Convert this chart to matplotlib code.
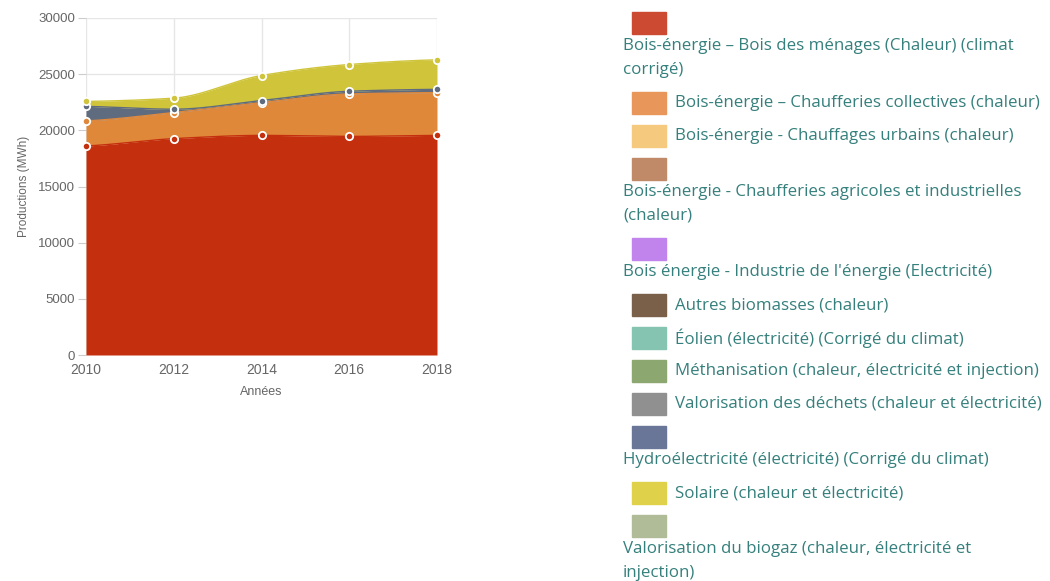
import numpy as np
import matplotlib
matplotlib.use("Agg")
import matplotlib.pyplot as plt
from matplotlib.patches import Rectangle

# ---- data ----
years = [2010, 2012, 2014, 2016, 2018]
bois_menages = [18610, 19260, 19550, 19460, 19550]
chaufferies_collectives = [2230, 2320, 2920, 3780, 3810]
hydro = [1290, 300, 180, 240, 290]
solaire = [440, 985, 2230, 2380, 2630]

series_names = ["Bois-énergie – Bois des ménages", "Chaufferies collectives", "Hydroélectricité", "Solaire"]
series_values = [bois_menages, chaufferies_collectives, hydro, solaire]
area_colors = ["#c42f0e", "#e0883a", "#5f6b7e", "#cfc43a"]

legend_labels = [
    "Bois-énergie – Bois des ménages (Chaleur) (climat\ncorrigé)",
    "Bois-énergie – Chaufferies collectives (chaleur)",
    "Bois-énergie - Chauffages urbains (chaleur)",
    "Bois-énergie - Chaufferies agricoles et industrielles\n(chaleur)",
    "Bois énergie - Industrie de l'énergie (Electricité)",
    "Autres biomasses (chaleur)",
    "Éolien (électricité) (Corrigé du climat)",
    "Méthanisation (chaleur, électricité et injection)",
    "Valorisation des déchets (chaleur et électricité)",
    "Hydroélectricité (électricité) (Corrigé du climat)",
    "Solaire (chaleur et électricité)",
    "Valorisation du biogaz (chaleur, électricité et\ninjection)",
]
legend_colors = ["#cc4a32", "#e8965a", "#f5c97e", "#c08a68", "#c084ec", "#7a6048",
                 "#84c4b0", "#8ca870", "#909090", "#6a7698", "#dfd24a", "#b0bc98"]
# whether text goes below the swatch (wrapped layout)
legend_block = [True, False, False, True, True, False, False, False, False, True, False, True]

yticks = [0, 5000, 10000, 15000, 20000, 25000, 30000]


def pchip(x, y, xs):
    x = np.asarray(x, float); y = np.asarray(y, float)
    h = np.diff(x); d = np.diff(y) / h
    n = len(x); m = np.zeros(n)
    for k in range(1, n - 1):
        if d[k - 1] * d[k] > 0:
            w1 = 2 * h[k] + h[k - 1]; w2 = h[k] + 2 * h[k - 1]
            m[k] = (w1 + w2) / (w1 / d[k - 1] + w2 / d[k])
    m[0] = d[0] * 0.5
    m[-1] = d[-1] * 0.5
    out = np.empty_like(xs, dtype=float)
    for i, xv in enumerate(xs):
        k = min(np.searchsorted(x, xv, side="right") - 1, n - 2)
        t = (xv - x[k]) / h[k]
        h00 = 2 * t**3 - 3 * t**2 + 1; h10 = t**3 - 2 * t**2 + t
        h01 = -2 * t**3 + 3 * t**2; h11 = t**3 - t**2
        out[i] = h00 * y[k] + h10 * h[k] * m[k] + h01 * y[k + 1] + h11 * h[k] * m[k + 1]
    return out


W, H = 1050, 581
plt.rcParams['font.family'] = ['Liberation Sans', 'DejaVu Sans']
fig = plt.figure(figsize=(W / 100, H / 100), dpi=100)
ax = fig.add_axes([86 / W, 1 - 355 / H, (437 - 86) / W, (355 - 18) / H])

xs = np.linspace(years[0], years[-1], 400)
cum = np.zeros(len(years))
lower = np.zeros_like(xs)
tops = []
for vals, col in zip(series_values, area_colors):
    cum = cum + np.array(vals, float)
    upper = pchip(years, cum, xs)
    ax.fill_between(xs, lower, upper, color=col, lw=0, zorder=2)
    ax.plot(xs, upper, color=col, lw=1, zorder=3)
    tops.append((cum.copy(), col))
    lower = upper
for c, col in tops:
    ax.scatter(years, c, s=28, color=col, edgecolor="white", linewidth=1.3, zorder=5, clip_on=False)

ax.set_xlim(years[0], years[-1])
ax.set_ylim(0, 30000)
ax.set_xticks(years)
ax.set_yticks(yticks)
ax.grid(True, color="#e6e6e6", lw=1, zorder=0)
ax.set_axisbelow(True)
for s in ["top", "right", "bottom", "left"]:
    ax.spines[s].set_visible(False)
ax.tick_params(axis="y", length=6, color="#cccccc", labelsize=9.5, labelcolor="#666666", pad=2)
ax.tick_params(axis="x", length=0, labelsize=10, labelcolor="#666666", pad=6)
ax.set_xlabel("Années", fontsize=9, color="#666666", labelpad=6)
ax.set_ylabel("Productions (MWh)", fontsize=8.5, color="#666666", labelpad=6)

# ---- legend (HTML-like flow) ----
text_color = "#35807c"
fs = 12.2
lfam = ["Open Sans", "DejaVu Sans"]
y = 12
for lab, col, block in zip(legend_labels, legend_colors, legend_block):
    fig.patches.append(Rectangle((632 / W, 1 - (y + 22) / H), 34 / W, 22 / H,
                                 transform=fig.transFigure, color=col, figure=fig))
    if block:
        lines = lab.split("\n")
        ty = y + 34
        for ln in lines:
            fig.text(623 / W, 1 - ty / H, ln, fontsize=fs, color=text_color, va="center", family=lfam)
            ty += 24
        y = ty - 24 + 22
    else:
        fig.text(675 / W, 1 - (y + 11) / H, lab, fontsize=fs, color=text_color, va="center", family=lfam)
        y += 33

fig.savefig("out.png", dpi=100)
